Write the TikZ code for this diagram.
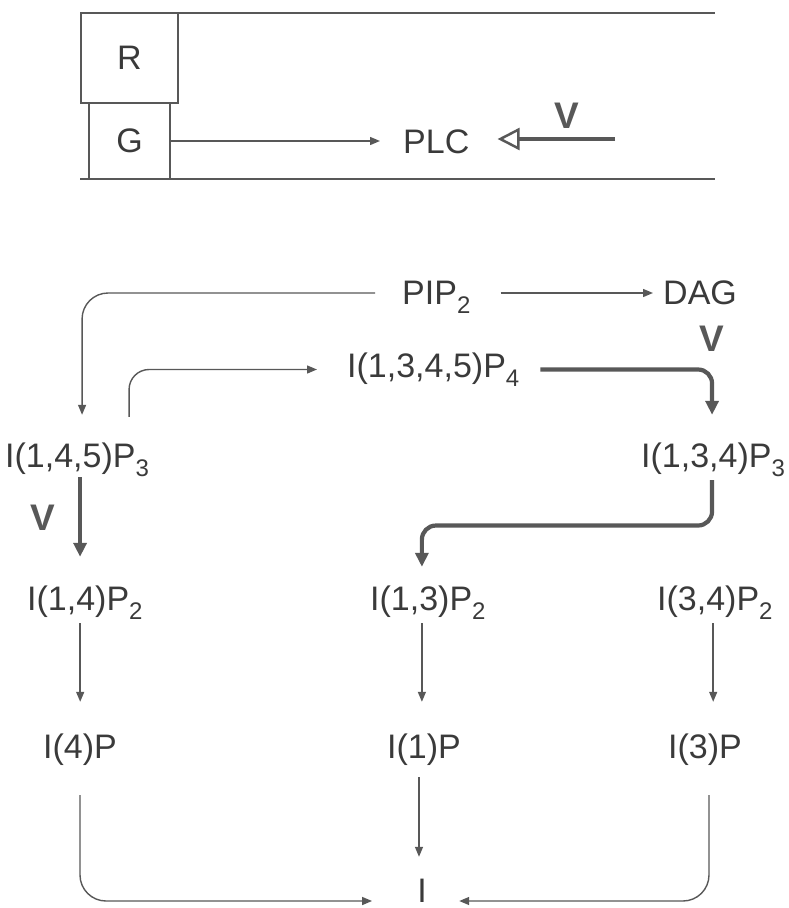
\documentclass[tikz,border=0pt]{standalone}
\usepackage{fontspec}
\setmainfont{Liberation Sans}
\usetikzlibrary{arrows.meta,calc}
\definecolor{ink}{RGB}{58,58,58}
\definecolor{ln}{RGB}{88,88,88}
\newcommand{\lsub}[1]{\raisebox{-9pt}{\fontsize{24}{24}\selectfont #1}}
\begin{document}
\begin{tikzpicture}[x=1pt,y=-1pt,
  lbl/.style={inner sep=0pt, text height=24pt, text depth=9pt, font=\fontsize{34}{38}\selectfont, text=ink},
  vlbl/.style={inner sep=0pt, font=\fontsize{37}{40}\selectfont\bfseries, text=ln},
  thinarr/.style={draw=ln, line width=1.4pt, -{Triangle[length=10pt,width=8pt]}},
  thickarr/.style={draw=ln, line width=4.2pt, -{Triangle[length=14pt,width=13pt]}},
  openarr/.style={draw=ln, line width=4.5pt, -{Triangle[open, length=22pt, width=22pt, line width=2.5pt, fill=white]}},
  memline/.style={draw=ln, line width=1.6pt},
  boxnode/.style={draw=ln, line width=1.6pt, inner sep=0pt, font=\fontsize{34}{38}\selectfont, text=ink}]
\useasboundingbox (0,0) rectangle (788,908);
% membrane
\draw[memline] (80,13) -- (715,13);
\draw[memline] (80,179) -- (715,179);
\node[boxnode, minimum width=97pt, minimum height=90pt] (r) at (129.5,58) {R};
\node[boxnode, minimum width=81pt, minimum height=76pt] (g) at (129.5,141) {G};
\node[lbl, anchor=base west] (plc) at (403,153) {PLC};
\coordinate (vs) at (615,139);
\node[vlbl] (v1) at (567,116) {V};
% nodes
\node[lbl, anchor=base west] (pip) at (402,304) {PIP\lsub{2}};
\node[lbl, anchor=base west] (dag) at (663,304) {DAG};
\node[lbl, anchor=base west] (i1345) at (347,377) {I(1,3,4,5)P\lsub{4}};
\node[lbl, anchor=base west] (i145) at (5,467) {I(1,4,5)P\lsub{3}};
\node[lbl, anchor=base west] (i134) at (641,467) {I(1,3,4)P\lsub{3}};
\node[lbl, anchor=base west] (i14) at (27,610) {I(1,4)P\lsub{2}};
\node[lbl, anchor=base west] (i13) at (370,610) {I(1,3)P\lsub{2}};
\node[lbl, anchor=base west] (i34) at (657,610) {I(3,4)P\lsub{2}};
\node[lbl, anchor=base] (i4) at (80,758) {I(4)P};
\node[lbl, anchor=base] (i1) at (424,758) {I(1)P};
\node[lbl, anchor=base] (i3) at (705,758) {I(3)P};
\node[lbl, text depth=0pt, anchor=base] (inode) at (422,902) {I};
\node[vlbl] (v2) at (712,339) {V};
\node[vlbl] (v3) at (43,518) {V};
% connectors
\draw[thinarr, shorten >=23pt] (g.east) -- (g.east -| plc.west);
\draw[openarr, shorten >=28pt] (vs) -- (vs -| plc.east);
\draw[thinarr, shorten <=30pt, shorten >=10pt] ([yshift=3.5pt]pip.east) -- ([yshift=3.5pt]dag.west);
\draw[thinarr, rounded corners=26pt, shorten <=27pt, shorten >=28pt] ([yshift=3.5pt]pip.west) -| ([xshift=5pt]i145.north);
\draw[thinarr, rounded corners=20pt, shorten <=26pt, shorten >=30pt] ([xshift=52pt]i145.north) |- (i1345.west);
\draw[thickarr, rounded corners=14pt, shorten <=21pt, shorten >=28pt] (i1345.east) -| ([xshift=-1pt]i134.north);
\draw[thickarr, rounded corners=14pt, shorten <=4pt, shorten >=19pt] ([xshift=-1pt]i134.south) |- ($(i134.south)!0.45!(i13.north)$) -| ([xshift=-6pt]i13.north);
\draw[thickarr, shorten <=1pt, shorten >=29pt] ([xshift=3pt]i145.south) -- ([xshift=3pt]i145.south |- i14.north);
\draw[thinarr, shorten <=4pt, shorten >=32pt] ([xshift=-4.7pt]i14.south) -- ([xshift=-4.7pt]i14.south |- i4.north);
\draw[thinarr, shorten <=4pt, shorten >=32pt] ([xshift=-6pt]i13.south) -- ([xshift=-6pt]i13.south |- i1.north);
\draw[thinarr, shorten <=4pt, shorten >=32pt] ([xshift=-1.7pt]i34.south) -- ([xshift=-1.7pt]i34.south |- i3.north);
\draw[thinarr, shorten <=10pt, shorten >=21pt] ([xshift=-5pt]i1.south) -- ([xshift=-5pt]i1.south |- inode.north);
\draw[thinarr, rounded corners=26pt, shorten <=28pt, shorten >=45pt] (i4.south) |- ([yshift=-11pt]inode.west);
\draw[thinarr, rounded corners=26pt, shorten <=28pt, shorten >=32.3pt] ([xshift=4pt]i3.south) |- ([yshift=-11pt]inode.east);
\end{tikzpicture}
\end{document}
